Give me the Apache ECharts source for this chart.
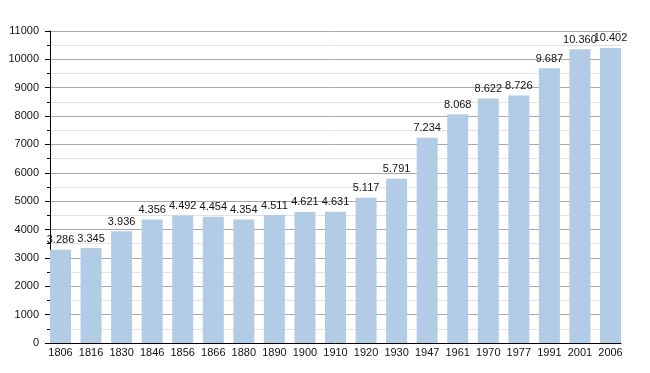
<!DOCTYPE html>
<html><head><meta charset="utf-8">
<script src="https://cdn.jsdelivr.net/npm/echarts@6/dist/echarts.min.js"></script>
<style>html,body{margin:0;padding:0;background:#fff}#c{width:650px;height:373px}</style>
</head><body><div id="c"></div>
<script>
var years = ['1806','1816','1830','1846','1856','1866','1880','1890','1900','1910','1920','1930','1947','1961','1970','1977','1991','2001','2006'];
var population = [3286,3345,3936,4356,4492,4454,4354,4511,4621,4631,5117,5791,7234,8068,8622,8726,9687,10360,10402];
var yMin = 0, yMax = 11000, yStep = 1000;

function fmt(v){ return String(v).replace(/\B(?=(\d{3})+(?!\d))/g,'.'); }
var font = 'Liberation Sans, Arial, sans-serif';
var chart = echarts.init(document.getElementById('c'));
chart.setOption({
  animation:false,
  grid:[
    {left:50,right:29,top:31,bottom:30},
    {left:60.5,right:39.5,top:31,bottom:30}
  ],
  xAxis:[
    {gridIndex:0,type:'value',min:0,max:1,axisLine:{show:true,onZero:false,lineStyle:{color:'#000',width:1}},axisTick:{show:false},axisLabel:{show:false},splitLine:{show:false}},
    {gridIndex:1,type:'category',data:years,boundaryGap:false,axisLine:{show:false},axisTick:{show:false},splitLine:{show:false},
     axisLabel:{color:'#111',fontFamily:font,fontSize:11,margin:4,interval:0}}
  ],
  yAxis:[
    {gridIndex:0,type:'value',min:yMin,max:yMax,interval:yStep,
     axisLine:{show:true,lineStyle:{color:'#000',width:1}},
     axisTick:{show:true,length:5,lineStyle:{color:'#000'}},
     minorTick:{show:true,splitNumber:2,length:3,lineStyle:{color:'#000'}},
     axisLabel:{color:'#111',fontFamily:font,fontSize:11,margin:11,formatter:function(v){return String(v);}},
     splitLine:{show:true,lineStyle:{color:'#a8a8a8',width:1}},
     minorSplitLine:{show:true,lineStyle:{color:'#e2e2e2',width:1}}},
    {gridIndex:1,type:'value',min:yMin,max:yMax,interval:yStep,show:false,splitLine:{show:false}}
  ],
  series:[{
    type:'bar',xAxisIndex:1,yAxisIndex:1,data:population,barWidth:21,
    itemStyle:{color:'#b2cce5'},
    label:{show:true,position:'top',distance:4,color:'#111',fontFamily:font,fontSize:11,formatter:function(p){return fmt(p.value);}}
  }]
});
</script></body></html>
